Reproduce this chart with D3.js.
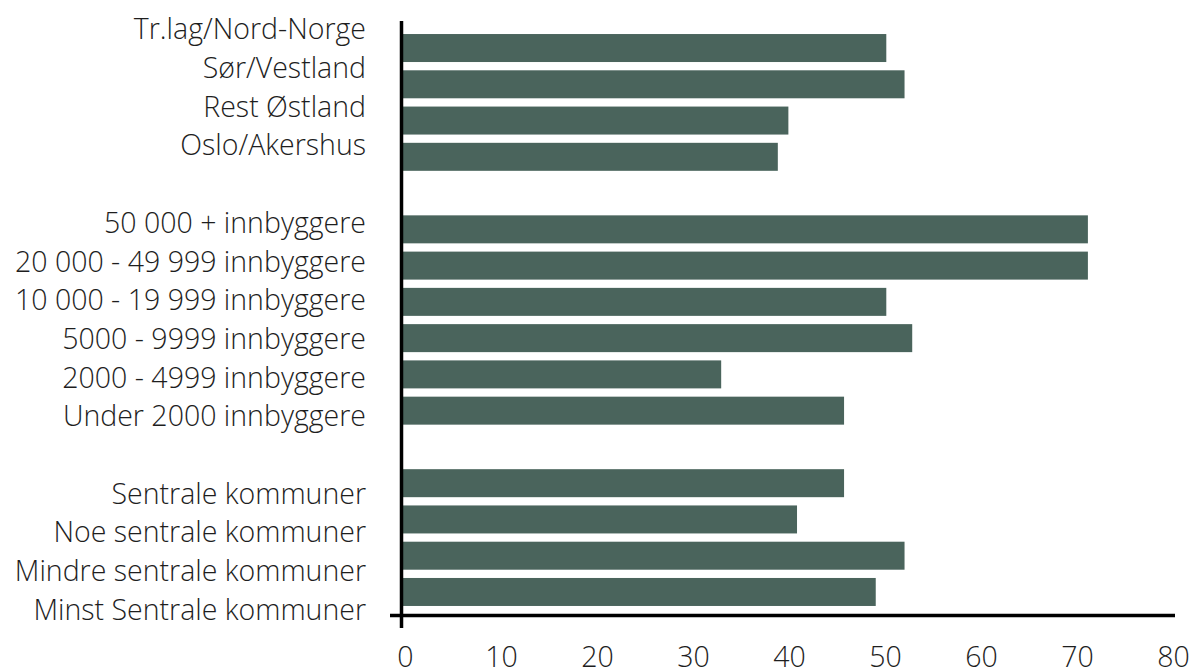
<!DOCTYPE html>
<html>
<head>
<meta charset="utf-8">
<script src="https://cdn.jsdelivr.net/npm/d3@7"></script>
<style>
  html, body { margin: 0; padding: 0; background: #ffffff; }
  svg text { font-family: "Open Sans", "Noto Sans", sans-serif; font-weight: 300; fill: #1e1e1e; }
</style>
</head>
<body>
<svg id="chart" width="1192" height="670"></svg>
<script>
// Share (%) per group of municipalities
const regionLabels = ["Tr.lag/Nord-Norge", "Sør/Vestland", "Rest Østland", "Oslo/Akershus"];
const regionValues = [50.5, 52.4, 40.3, 39.2];

const sizeLabels = [
  "50 000 + innbyggere",
  "20 000 - 49 999 innbyggere",
  "10 000 - 19 999 innbyggere",
  "5000 - 9999 innbyggere",
  "2000 - 4999 innbyggere",
  "Under 2000 innbyggere"
];
const sizeValues = [71.5, 71.5, 50.5, 53.2, 33.3, 46.1];

const centralityLabels = [
  "Sentrale kommuner",
  "Noe sentrale kommuner",
  "Mindre sentrale kommuner",
  "Minst Sentrale kommuner"
];
const centralityValues = [46.1, 41.2, 52.4, 49.4];

const xTicks = [0, 10, 20, 30, 40, 50, 60, 70, 80];

// Rows top to bottom, with an empty slot between the groups
const rows = [];
const addGroup = (labels, values) => labels.forEach((l, i) => rows.push({ key: l, label: l, value: values[i] }));
addGroup(regionLabels, regionValues);
rows.push({ key: "gap-1", label: "", value: null });
addGroup(sizeLabels, sizeValues);
rows.push({ key: "gap-2", label: "", value: null });
addGroup(centralityLabels, centralityValues);

const svg = d3.select("#chart");
const fontSize = 28.5;

const x = d3.scaleLinear().domain([0, 80]).range([401.5, 1169.5]);

const y = d3.scaleBand()
  .domain(rows.map(d => d.key))
  .range([29.9, 610.1])
  .paddingInner(0.228)
  .paddingOuter(0.114);

// category labels are spaced a little wider than the bars
const yLabel = d3.scaleBand()
  .domain(rows.map(d => d.key))
  .range([9.6, 628.8])
  .padding(0);

const color = "#4a645c";

// bars
svg.append("g")
  .selectAll("rect")
  .data(rows.filter(d => d.value !== null))
  .join("rect")
  .attr("x", x(0))
  .attr("y", d => y(d.key))
  .attr("width", d => x(d.value) - x(0))
  .attr("height", y.bandwidth())
  .attr("fill", color);

// category labels
svg.append("g")
  .selectAll("text")
  .data(rows.filter(d => d.label !== ""))
  .join("text")
  .attr("x", 366)
  .attr("y", d => yLabel(d.key) + yLabel.bandwidth() / 2 + 10.4)
  .attr("text-anchor", "end")
  .attr("font-size", fontSize)
  .text(d => d.label);

// x tick labels
const xAxis = d3.axisBottom(x).tickValues(xTicks).tickSize(0).tickPadding(0).tickFormat(d3.format("d"));
const gx = svg.append("g").attr("transform", "translate(3.5,667)").call(xAxis);
gx.select(".domain").remove();
gx.selectAll("text")
  .attr("dy", 0)
  .attr("y", 0)
  .attr("font-size", fontSize)
  .attr("fill", "#1e1e1e")
  .style("font-family", "'Open Sans', 'Noto Sans', sans-serif");

// axis lines crossing at the origin
const axisY = 615.5;
svg.append("line")
  .attr("x1", x(0) - 11.5).attr("x2", x(80) + 5.5)
  .attr("y1", axisY).attr("y2", axisY)
  .attr("stroke", "#000").attr("stroke-width", 3.3);
svg.append("line")
  .attr("x1", x(0)).attr("x2", x(0))
  .attr("y1", 21).attr("y2", 628)
  .attr("stroke", "#000").attr("stroke-width", 3.5);
</script>
</body>
</html>
